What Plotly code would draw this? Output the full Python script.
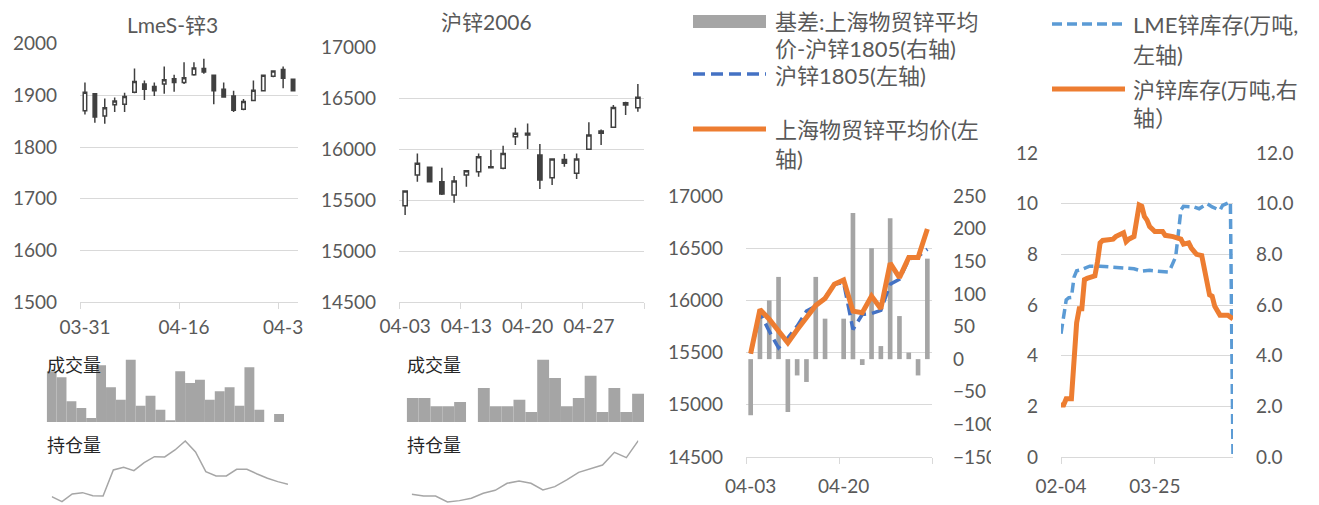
import plotly.graph_objects as go

W, H = 1319, 505
OFF = 8  # page body margin around the plot div
GRID = "#d9d9d9"
TXT = "#595959"
FONT = "Lato, Noto Sans CJK SC, sans-serif"

# ---- LmeS-锌3 candles ----
lme_open = [1870, 1903, 1860, 1882, 1883, 1906, 1922, 1917, 1922, 1932, 1925,
            1940, 1952, 1939, 1912, 1899, 1873, 1890, 1909, 1937, 1950, 1931]
lme_high = [1925, 1903, 1894, 1896, 1905, 1952, 1929, 1925, 1956, 1940, 1964,
            1964, 1971, 1940, 1925, 1909, 1893, 1929, 1940, 1948, 1956, 1932]
lme_low = [1863, 1847, 1845, 1868, 1868, 1904, 1891, 1899, 1903, 1907, 1922,
           1938, 1942, 1883, 1896, 1868, 1871, 1890, 1908, 1935, 1914, 1908]
lme_close = [1906, 1858, 1876, 1889, 1898, 1927, 1912, 1909, 1930, 1925, 1934,
             1953, 1945, 1909, 1897, 1871, 1888, 1910, 1939, 1947, 1933, 1909]
lme_ticks = ["03-31", "04-16", "04-3"]
lme_vol = [152, 134, 62, 42, 12, 170, 104, 67, 187, 49, 79, 37, 5, 152, 117, 127,
           67, 92, 104, 49, 164, 37, 0, 24]
lme_oi = [30, 15, 38, 42, 33, 32, 110, 118, 108, 132, 150, 149, 170, 197, 164, 105,
          92, 92, 112, 112, 98, 85, 75, 67]

# ---- 沪锌2006 candles ----
shf_open = [15447, 15748, 15824, 15683, 15552, 15748, 15781, 15830, 15814, 16125,
            16158, 15945, 15722, 15902, 15765, 16001, 16181, 16217, 16459, 16410]
shf_high = [15595, 15961, 15830, 15820, 15739, 15798, 15961, 15994, 16037, 16214,
            16256, 16053, 15912, 15955, 15961, 16266, 16197, 16436, 16469, 16643]
shf_low = [15355, 15683, 15683, 15552, 15476, 15634, 15732, 15814, 15805, 16043,
           16004, 15611, 15650, 15830, 15709, 15995, 16043, 16210, 16338, 16371]
shf_close = [15591, 15863, 15683, 15562, 15689, 15791, 15929, 15820, 15961, 16158,
             16142, 15699, 15906, 15863, 15906, 16142, 16158, 16413, 16436, 16512]
shf_ticks = ["04-03", "04-13", "04-20", "04-27"]
shf_vol = [72, 72, 47, 47, 60, 0, 102, 47, 47, 67, 30, 187, 132, 47, 72, 139,
           30, 102, 30, 85]
shf_oi = [37, 32, 32, 14, 18, 25, 40, 49, 70, 77, 70, 50, 60, 80, 103, 113,
          125, 163, 147, 198]

# ---- 基差 panel ----
basis_dates = ["04-03", "04-20"]
basis = [-86, 75, 90, 126, -81, -25, -35, 126, 62, 0, 62, 224, -9, 170, 20, 216,
         66, 10, -25, 154]
shfe1805 = [15490, 15881, 15705, 15545, 15641, 15753, 15897, 15945, 16026, 16154,
            16170, 15721, 15865, 15875, 15904, 16154, 16202, 16394, 16420, 16490]
spot_avg = [15490, 15913, 15820, 15712, 15593, 15718, 15833, 15952, 16019, 16154,
            16196, 15897, 15881, 16042, 15920, 16356, 16218, 16410, 16410, 16683]

# ---- 库存 panel (x = trading-day index) ----
inv_ticks = ["02-04", "03-25"]
lme_inv_x = [0, 1, 2, 3, 4, 5, 6, 7, 11, 15, 21, 28, 31, 34, 37, 41, 42, 43, 44,
             45, 46, 47, 51, 53, 56, 58, 61, 62, 65, 66]
lme_inv = [4.87, 5.46, 6.2, 6.29, 6.3, 7.1, 7.35, 7.37, 7.53, 7.53, 7.47, 7.43,
           7.34, 7.37, 7.33, 7.3, 7.43, 7.7, 7.9, 8.8, 9.74, 9.9, 9.87, 9.8, 10.0,
           9.87, 9.74, 9.93, 10.07, 0]
shfe_inv_x = [0, 1, 2, 4, 6, 7, 8, 9, 10, 13, 14, 15, 16, 20, 21, 23, 24, 25, 26,
              28, 29, 30, 31, 32, 33, 34, 35, 36, 39, 40, 43, 46, 47, 49, 50, 52,
              54, 55, 56, 57, 58, 59, 61, 64, 66]
shfe_inv = [2.05, 2.05, 2.3, 2.3, 5.3, 5.85, 5.85, 7.0, 7.05, 7.15, 7.7, 8.45,
            8.55, 8.6, 8.7, 8.8, 8.85, 8.5, 8.6, 8.7, 9.5, 9.95, 9.9, 9.5, 9.35,
            9.1, 9.0, 8.9, 8.9, 8.75, 8.7, 8.6, 8.4, 8.45, 8.25, 8.0, 7.95, 7.4,
            7.0, 6.4, 6.35, 5.95, 5.6, 5.6, 5.45]


# page-pixel helpers (the div sits OFF px from the page corner)
def px(x):
    return (x - OFF) / W


def py(y):
    return 1 - (y - OFF) / H


def xd(a, b):
    return [px(a), px(b)]


def yd(top, bottom):
    return [py(bottom), py(top)]


tick_font = dict(family=FONT, size=19, color=TXT)
candle_style = dict(
    increasing=dict(line=dict(color="#404040", width=1.5), fillcolor="white"),
    decreasing=dict(line=dict(color="#404040", width=1.5), fillcolor="#404040"),
    whiskerwidth=0, showlegend=False, hoverinfo="skip",
)

fig = go.Figure()

# panel 1
fig.add_trace(go.Candlestick(x=list(range(len(lme_open))), open=lme_open, high=lme_high,
                             low=lme_low, close=lme_close, xaxis="x", yaxis="y", **candle_style))
fig.add_trace(go.Bar(x=list(range(len(lme_vol))), y=lme_vol, width=1,
                     marker=dict(color="#a5a5a5", line=dict(width=0)), xaxis="x2", yaxis="y2"))
fig.add_trace(go.Scatter(x=list(range(len(lme_oi))), y=lme_oi, mode="lines",
                         line=dict(color="#a6a6a6", width=1.5), xaxis="x3", yaxis="y3"))

# panel 2
fig.add_trace(go.Candlestick(x=list(range(len(shf_open))), open=shf_open, high=shf_high,
                             low=shf_low, close=shf_close, xaxis="x4", yaxis="y4", **candle_style))
fig.add_trace(go.Bar(x=list(range(len(shf_vol))), y=shf_vol, width=1,
                     marker=dict(color="#a5a5a5", line=dict(width=0)), xaxis="x5", yaxis="y5"))
fig.add_trace(go.Scatter(x=list(range(len(shf_oi))), y=shf_oi, mode="lines",
                         line=dict(color="#a6a6a6", width=1.5), xaxis="x6", yaxis="y6"))

# panel 3
idx3 = list(range(len(basis)))
fig.add_trace(go.Bar(x=idx3, y=basis, width=0.5, marker=dict(color="#a5a5a5", line=dict(width=0)),
                     xaxis="x7", yaxis="y7"))
fig.add_trace(go.Scatter(x=idx3, y=shfe1805, mode="lines",
                         line=dict(color="#4472c4", width=3.5, dash="12px,6px"), xaxis="x7", yaxis="y8"))
fig.add_trace(go.Scatter(x=idx3, y=spot_avg, mode="lines",
                         line=dict(color="#ed7d31", width=5), xaxis="x7", yaxis="y8"))

# panel 4
fig.add_trace(go.Scatter(x=lme_inv_x, y=lme_inv, mode="lines",
                         line=dict(color="#5b9bd5", width=3.5, dash="10px,5px"), xaxis="x9", yaxis="y9"))
fig.add_trace(go.Scatter(x=shfe_inv_x, y=shfe_inv, mode="lines",
                         line=dict(color="#ed7d31", width=5), xaxis="x9", yaxis="y10"))

hidden = dict(visible=False, fixedrange=True)
cat_x = dict(showline=True, linecolor=GRID, showgrid=False, zeroline=False, ticks="",
             tickfont=tick_font, rangeslider=dict(visible=False))
left_y = dict(showgrid=True, gridcolor=GRID, zeroline=False, ticks="", showline=False,
              tickfont=tick_font, ticklabelstandoff=22, tickformat="d")

fig.update_layout(
    width=W, height=H, margin=dict(l=0, r=0, t=0, b=0, autoexpand=False),
    paper_bgcolor="white", plot_bgcolor="white", showlegend=False, boxgap=0.5,
    font=dict(family=FONT, color=TXT),
    xaxis=dict(domain=xd(80, 298), range=[-0.5, 21.5], tickvals=[0, 10, 20], ticktext=lme_ticks,
               minor=dict(tickvals=[-0.5, 9.5, 19.5], ticks="outside", ticklen=6, tickcolor=GRID),
               anchor="y", ticklabelstandoff=8, **cat_x),
    yaxis=dict(domain=yd(43.7, 302), range=[1500, 2000], dtick=100, anchor="x", **left_y),
    xaxis2=dict(domain=xd(46.7, 284), range=[-0.5, 23.5], anchor="y2", **hidden),
    yaxis2=dict(domain=yd(355.3, 422), range=[0, 200], anchor="x2", **hidden),
    xaxis3=dict(domain=xd(51.7, 288), range=[0, 23], anchor="y3", **hidden),
    yaxis3=dict(domain=yd(440, 503.3), range=[10, 200], anchor="x3", **hidden),
    xaxis4=dict(domain=xd(399, 644), range=[-0.5, 19.5], tickvals=[0, 5, 10, 15], ticktext=shf_ticks,
                minor=dict(tickvals=[-0.5, 4.5, 9.5, 14.5, 19.5], ticks="outside", ticklen=6,
                           tickcolor=GRID),
                anchor="y4", ticklabelstandoff=7, **cat_x),
    yaxis4=dict(domain=yd(47.7, 302), range=[14500, 17000], dtick=500, anchor="x4", **left_y),
    xaxis5=dict(domain=xd(406.7, 644), range=[-0.5, 19.5], anchor="y5", **hidden),
    yaxis5=dict(domain=yd(355.3, 422), range=[0, 200], anchor="x5", **hidden),
    xaxis6=dict(domain=xd(411.7, 638.3), range=[0, 19], anchor="y6", **hidden),
    yaxis6=dict(domain=yd(440, 503.3), range=[10, 200], anchor="x6", **hidden),
    xaxis7=dict(domain=xd(746, 932), range=[-0.5, 19.5], tickvals=[0, 10], ticktext=basis_dates,
                minor=dict(tickvals=[-0.5, 9.5, 19.5], ticks="outside", ticklen=6, tickcolor=GRID),
                anchor="y7", ticklabelstandoff=12, **cat_x),
    yaxis7=dict(domain=yd(196, 457), range=[-150, 250], dtick=50, side="right", anchor="x7",
                showgrid=False, zeroline=False, ticks="", tickfont=tick_font, ticklabelstandoff=20),
    yaxis8=dict(range=[14500, 17000], dtick=500, side="left", overlaying="y7", anchor="x7",
                **left_y),
    xaxis9=dict(domain=xd(1061, 1233), range=[0, 66], tickvals=[0, 36], ticktext=inv_ticks,
                showline=True, linecolor=GRID, showgrid=False, zeroline=False, ticks="outside",
                ticklen=6, tickcolor=GRID, tickfont=tick_font, ticklabelstandoff=6, anchor="y9"),
    yaxis9=dict(domain=yd(153, 457), range=[0, 12], dtick=2, anchor="x9", **left_y),
    yaxis10=dict(range=[0, 12], dtick=2, tickformat=".1f", side="right", overlaying="y9",
                 anchor="x9", showgrid=False, zeroline=False, ticks="", tickfont=tick_font,
                 ticklabelstandoff=22),
)

ann = []


def label(text, x, y, size, color=TXT, xanchor="left"):
    ann.append(dict(text=text, x=px(x), y=py(y), xref="paper", yref="paper", showarrow=False,
                    xanchor=xanchor, yanchor="middle", font=dict(family=FONT, size=size, color=color)))


label("LmeS-锌3", 172, 24, 21, xanchor="center")
label("沪锌2006", 486, 21, 21, xanchor="center")
for x0 in (46.7, 406.7):
    label("成交量", x0 - 2, 365, 18, color="#262626")
    label("持仓量", x0 - 2, 445, 18, color="#262626")

# legends
label("基差:上海物贸锌平均", 773, 21, 22)
label("价-沪锌1805(右轴)", 773, 49, 22)
label("沪锌1805(左轴)", 773, 75, 22)
label("上海物贸锌平均价(左", 773, 129, 22)
label("轴)", 773, 158, 22)
label("LME锌库存(万吨,", 1131, 24, 22)
label("左轴)", 1131, 55, 22)
label("沪锌库存(万吨,右", 1131, 89, 22)
label("轴）", 1131, 118, 22)

shapes = [
    dict(type="rect", xref="paper", yref="paper", x0=px(693), x1=px(766), y0=py(28), y1=py(15),
         fillcolor="#a5a5a5", line=dict(width=0)),
    dict(type="line", xref="paper", yref="paper", x0=px(693), x1=px(766), y0=py(74), y1=py(74),
         line=dict(color="#4472c4", width=3.5, dash="12px,6px")),
    dict(type="line", xref="paper", yref="paper", x0=px(693), x1=px(766), y0=py(129), y1=py(129),
         line=dict(color="#ed7d31", width=5)),
    dict(type="line", xref="paper", yref="paper", x0=px(1052), x1=px(1125), y0=py(24), y1=py(24),
         line=dict(color="#5b9bd5", width=3.5, dash="10px,5px")),
    dict(type="line", xref="paper", yref="paper", x0=px(1052), x1=px(1125), y0=py(89), y1=py(89),
         line=dict(color="#ed7d31", width=5)),
    # panel edge of the right-axis labels
    dict(type="rect", xref="paper", yref="paper", x0=px(991), x1=px(1008), y0=py(475), y1=py(370),
         fillcolor="white", line=dict(width=0), layer="above"),
]

fig.update_layout(annotations=ann, shapes=shapes)
fig.write_html("out.html")
